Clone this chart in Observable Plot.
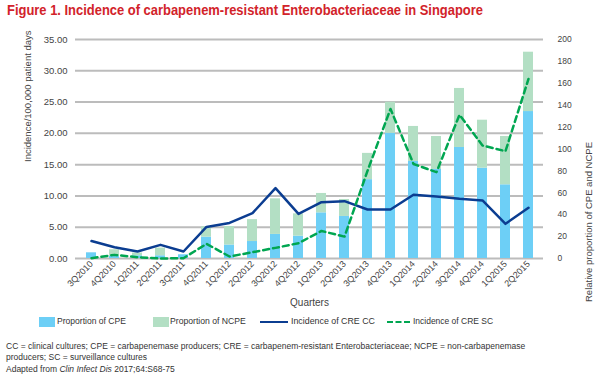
<!DOCTYPE html>
<html><head><meta charset="utf-8">
<script src="https://cdn.jsdelivr.net/npm/d3@7"></script>
<script src="https://cdn.jsdelivr.net/npm/@observablehq/plot@0.6"></script>
<style>
body{margin:0;width:600px;height:382px;overflow:hidden;background:#fff;font-family:"Liberation Sans",Arial,sans-serif;}
#wrap{position:relative;width:600px;height:382px;}
#title{position:absolute;left:7px;top:2px;font-weight:bold;font-size:14.5px;color:#d2232a;white-space:nowrap;transform-origin:0 0;}
#chart{position:absolute;left:0;top:28px;}
.lg{position:absolute;font-size:10px;color:#333;white-space:nowrap;top:315px;line-height:12px;}
.sw{position:absolute;top:317px;width:16px;height:10px;}
.ln{position:absolute;top:321px;height:0;}
.cap{position:absolute;left:6px;font-size:9px;color:#333;white-space:nowrap;line-height:11px;}
</style></head>
<body><div id="wrap">
<div id="title">Figure 1. Incidence of carbapenem-resistant Enterobacteriaceae in Singapore</div>
<div id="chart"></div>
<div class="sw" style="left:39px;background:#6dcff6"></div><div class="lg" data-w="69" style="left:57px">Proportion of CPE</div>
<div class="sw" style="left:153px;background:#b3dfc4"></div><div class="lg" data-w="76" style="left:170px">Proportion of NCPE</div>
<div class="ln" style="left:260px;width:28px;border-top:2.5px solid #0b3d91"></div><div class="lg" data-w="84" style="left:291px">Incidence of CRE CC</div>
<div class="ln" style="left:387px;width:23px;border-top:2.5px dashed #00a651"></div><div class="lg" data-w="80" style="left:413px">Incidence of CRE SC</div>
<div class="cap" id="cap1" style="top:341px">CC = clinical cultures; CPE = carbapenemase producers; CRE = carbapenem-resistant Enterobacteriaceae; NCPE = non-carbapenemase</div>
<div class="cap" style="top:352px">producers; SC = surveillance cultures</div>
<div class="cap" style="top:364px">Adapted from <i>Clin Infect Dis</i> 2017;64:S68-75</div>
</div>
<script>
const quarters = ["3Q2010","4Q2010","1Q2011","2Q2011","3Q2011","4Q2011","1Q2012","2Q2012","3Q2012","4Q2012","1Q2013","2Q2013","3Q2013","4Q2013","1Q2014","2Q2014","3Q2014","4Q2014","1Q2015","2Q2015"];
const cpe  = [5.2, 2, 2.5, 2.5, 3.4, 19.5, 12.3, 15.5, 22, 20.4, 41.7, 38.4, 72, 114.4, 88.6, 81.3, 101.4, 82.5, 67.3, 134.2];
const ncpe = [0, 6, 2.5, 7, 0, 9.5, 16.9, 20, 32.5, 20.4, 17.7, 15.5, 24, 28.3, 32, 30.1, 53.9, 43.8, 44.1, 54.2];
const creCC = [2.8, 1.81, 1.12, 2.18, 1.12, 5.05, 5.68, 7.25, 11.25, 7.12, 9.0, 9.16, 7.83, 7.83, 10.18, 9.9, 9.54, 9.27, 5.54, 8.1];
const creSC = [0.05, 0.58, 0.21, 0.0, 0.05, 2.34, 0.32, 1.0, 1.7, 2.45, 4.4, 3.5, 14.0, 23.9, 15.1, 13.8, 22.96, 18.06, 17.15, 28.7];
const leftTicks = [0,5,10,15,20,25,30,35];
const rightTicks = [0,20,40,60,80,100,120,140,160,180,200];

const k = 35/200; // right axis (0-200) mapped onto left axis (0-35)
const barData = [];
quarters.forEach((q,i)=>{
  barData.push({q, s:"CPE", v:cpe[i]*k});
  barData.push({q, s:"NCPE", v:ncpe[i]*k});
});
const lineData = quarters.map((q,i)=>({q, cc:creCC[i], sc:creSC[i]}));
const font = "'Liberation Sans', Arial, sans-serif";

const chart = Plot.plot({
  width:600, height:282,
  marginTop:11, marginBottom:52, marginLeft:75, marginRight:57,
  style:{fontFamily:font, fontSize:"9.5px", color:"#444", background:"transparent"},
  x:{type:"band", domain:quarters, paddingInner:0.57, paddingOuter:0.285, align:0.5, label:null},
  y:{domain:[0,35], label:null},
  color:{domain:["CPE","NCPE"], range:["#6dcff6","#b3dfc4"]},
  marks:[
    Plot.gridY(leftTicks, {stroke:"#bcbcbc", strokeWidth:2, strokeOpacity:1}),
    Plot.barY(barData, {x:"q", y:"v", fill:"s"}),
    Plot.line(lineData, {x:"q", y:"cc", stroke:"#0b3d91", strokeWidth:2.5}),
    Plot.line(lineData, {x:"q", y:"sc", stroke:"#00a651", strokeWidth:2.5, strokeDasharray:"6,4"}),
    Plot.axisY(leftTicks, {anchor:"left", tickSize:0, tickPadding:8, tickFormat:d3.format(".2f"), label:null, fontSize:9.5}),
    Plot.axisY(rightTicks.map(v=>v*k), {anchor:"right", tickSize:0, tickPadding:14, tickFormat:d=>String(Math.round(d/k)), label:null, fontSize:8.5}),
    Plot.axisX({tickSize:0, tickRotate:-45, tickPadding:4, label:null, fontSize:9}),
    Plot.text(["Quarters"], {frameAnchor:"bottom", dy:47, fontSize:10, fill:"#444"}),
    Plot.text(["Incidence/100,000 patient days"], {frameAnchor:"left", dx:-48, dy:13, rotate:-90, fontSize:9.5, fill:"#444"}),
    Plot.text(["Relative proportion of CPE and NCPE"], {frameAnchor:"right", dx:45, dy:-7, rotate:-90, fontSize:9.5, fill:"#444"})
  ]
});
document.getElementById("chart").appendChild(chart);

const t = document.getElementById("title");
const w = t.getBoundingClientRect().width;
t.style.transform = `scaleX(${476/w})`;

// fit legend and caption text sizes to the reference widths
document.querySelectorAll(".lg").forEach(el => {
  const target = +el.dataset.w;
  const cw = el.getBoundingClientRect().width;
  el.style.fontSize = (10 * target / cw).toFixed(2) + "px";
});
const c1 = document.getElementById("cap1");
const cs = 9 * 519 / c1.getBoundingClientRect().width;
document.querySelectorAll(".cap").forEach(el => el.style.fontSize = cs.toFixed(2) + "px");
</script>
</body></html>
